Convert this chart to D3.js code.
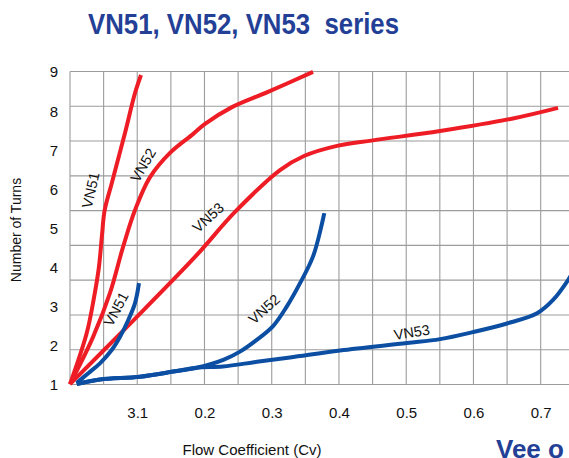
<!DOCTYPE html>
<html>
<head>
<meta charset="utf-8">
<script src="https://cdn.jsdelivr.net/npm/d3@7"></script>
<style>
  html, body { margin: 0; padding: 0; background: #fff; }
  svg { display: block; font-family: "Liberation Sans", Arial, sans-serif; }
</style>
</head>
<body>
<svg id="chart" width="569" height="458"></svg>
<script>
// ---------- data ----------
const titleText = "VN51, VN52, VN53\u00a0 series";
const xAxisTitle = "Flow Coefficient (Cv)";
const yAxisTitle = "Number of Turns";
const brandText = "Vee o";

const xTickValues = [0.1, 0.2, 0.3, 0.4, 0.5, 0.6, 0.7];
const xTickLabels = ["3.1", "0.2", "0.3", "0.4", "0.5", "0.6", "0.7"];
const yTickValues = [1, 2, 3, 4, 5, 6, 7, 8, 9];

// red curves (upper family)
const redVN51 = [[0,1.01],[0.0248,2.31],[0.0360,3.25],[0.0430,4.00],[0.0475,4.80],[0.0515,5.45],[0.0620,6.14],[0.0818,7.43],[0.0967,8.45],[0.1056,8.91]];
const redVN52 = [[0,1.01],[0.0342,2.21],[0.0595,3.34],[0.0788,4.51],[0.0967,5.46],[0.1190,6.30],[0.1487,6.92],[0.1829,7.40],[0.2008,7.66],[0.2409,8.09],[0.2945,8.48],[0.3614,8.99]];
const redVN53 = [[0,1.01],[0.0892,2.55],[0.1859,4.26],[0.2454,5.41],[0.3123,6.48],[0.3480,6.84],[0.3971,7.10],[0.4506,7.24],[0.5503,7.48],[0.6588,7.80],[0.7258,8.07]];

// blue curves (lower family)
const blueVN51 = [[0.0100,1.04],[0.0272,1.29],[0.0446,1.54],[0.0620,1.88],[0.0744,2.22],[0.0867,2.65],[0.0967,3.08],[0.1026,3.59]];
const blueVN52 = [[0.0100,1.01],[0.0446,1.13],[0.1041,1.20],[0.1536,1.33],[0.1884,1.43],[0.2280,1.63],[0.2528,1.84],[0.2777,2.14],[0.3023,2.50],[0.3223,2.99],[0.3421,3.59],[0.3620,4.30],[0.3782,5.38]];
const blueVN53 = [[0.0100,1.01],[0.0446,1.13],[0.1041,1.20],[0.1536,1.33],[0.1884,1.43],[0.2275,1.46],[0.2781,1.58],[0.3272,1.69],[0.4016,1.87],[0.5012,2.06],[0.5503,2.16],[0.5994,2.34],[0.6500,2.56],[0.6946,2.82],[0.7184,3.16],[0.7407,3.67],[0.7510,3.97]];

const curveNames = ["VN51", "VN52", "VN53"];
// label anchors in data units [cv, turns]
const redLabelAt = [[0.0305, 5.97], [0.1086, 6.61], [0.2052, 5.27]];
const blueLabelAt = [[0.0684, 2.93], [0.2885, 2.93], [0.5082, 2.34]];

// ---------- styling / layout ----------
const RED = "#ee1d25";
const BLUE = "#0b4ea2";
const TITLE_BLUE = "#243f96";
const redAngles = [-77, -60, -42];
const blueAngles = [-62, -42, -9];

const svg = d3.select("#chart");
const x = d3.scaleLinear().domain([0, 0.7]).range([70, 540.7]);
const y = d3.scaleLinear().domain([1, 9]).range([384.5, 71.5]);

// grid
const gx = d3.range(0, 0.7501, 0.05);
const gy = d3.range(10).map(k => 1 + k * 8 / 9);
const grid = svg.append("g").attr("stroke", "#9c9c9c").attr("stroke-width", 1.1);
grid.selectAll("line.v").data(gx).join("line")
  .attr("x1", d => x(d)).attr("x2", d => x(d))
  .attr("y1", y(9)).attr("y2", y(1));
grid.selectAll("line.h").data(gy).join("line")
  .attr("x1", x(0)).attr("x2", 569)
  .attr("y1", d => y(d)).attr("y2", d => y(d));

// axes labels
const xAxis = d3.axisBottom(x).tickValues(xTickValues)
  .tickFormat((d, i) => xTickLabels[i]).tickSize(0).tickPadding(0);
const xg = svg.append("g").attr("transform", `translate(0, 418)`).call(xAxis);
xg.select(".domain").remove();
xg.selectAll("text").attr("font-size", 15).attr("fill", "#111")
  .attr("font-family", "Liberation Sans, Arial, sans-serif").attr("dy", 0).attr("y", 0);

const yAxis = d3.axisLeft(y).tickValues(yTickValues).tickFormat(d3.format("d")).tickSize(0).tickPadding(0);
const yg = svg.append("g").attr("transform", `translate(54, 0)`).call(yAxis);
yg.select(".domain").remove();
yg.selectAll("text").attr("font-size", 15).attr("fill", "#111")
  .attr("text-anchor", "middle").attr("dy", "0.36em")
  .attr("font-family", "Liberation Sans, Arial, sans-serif");

// curves
const line = d3.line().x(d => x(d[0])).y(d => y(d[1])).curve(d3.curveCatmullRom.alpha(0.5));
const redSeries = [redVN51, redVN52, redVN53];
const blueSeries = [blueVN51, blueVN52, blueVN53];
svg.append("g").selectAll("path").data(redSeries).join("path")
  .attr("d", line).attr("fill", "none").attr("stroke", RED)
  .attr("stroke-width", 4).attr("stroke-linejoin", "round");
svg.append("g").selectAll("path").data(blueSeries).join("path")
  .attr("d", line).attr("fill", "none").attr("stroke", BLUE)
  .attr("stroke-width", 4).attr("stroke-linejoin", "round");

// curve labels
function labels(pos, angles) {
  svg.append("g").selectAll("text").data(pos).join("text")
    .attr("transform", (d, i) => `translate(${x(d[0])},${y(d[1])}) rotate(${angles[i]})`)
    .attr("text-anchor", "middle").attr("dy", "0.36em")
    .attr("font-size", 14.5).attr("fill", "#111")
    .text((d, i) => curveNames[i]);
}
labels(redLabelAt, redAngles);
labels(blueLabelAt, blueAngles);

// titles
svg.append("text").attr("x", 88).attr("y", 33.5)
  .attr("font-size", 29).attr("font-weight", "bold").attr("fill", TITLE_BLUE)
  .attr("textLength", 311).attr("lengthAdjust", "spacingAndGlyphs")
  .text(titleText);

svg.append("text").attr("x", 252).attr("y", 455)
  .attr("text-anchor", "middle").attr("font-size", 15).attr("fill", "#111")
  .text(xAxisTitle);

svg.append("text").attr("transform", "translate(21,230) rotate(-90)")
  .attr("text-anchor", "middle").attr("font-size", 14).attr("fill", "#111")
  .text(yAxisTitle);

svg.append("text").attr("x", 496).attr("y", 458)
  .attr("font-size", 26).attr("font-weight", "bold").attr("fill", TITLE_BLUE)
  .text(brandText);
</script>
</body>
</html>
